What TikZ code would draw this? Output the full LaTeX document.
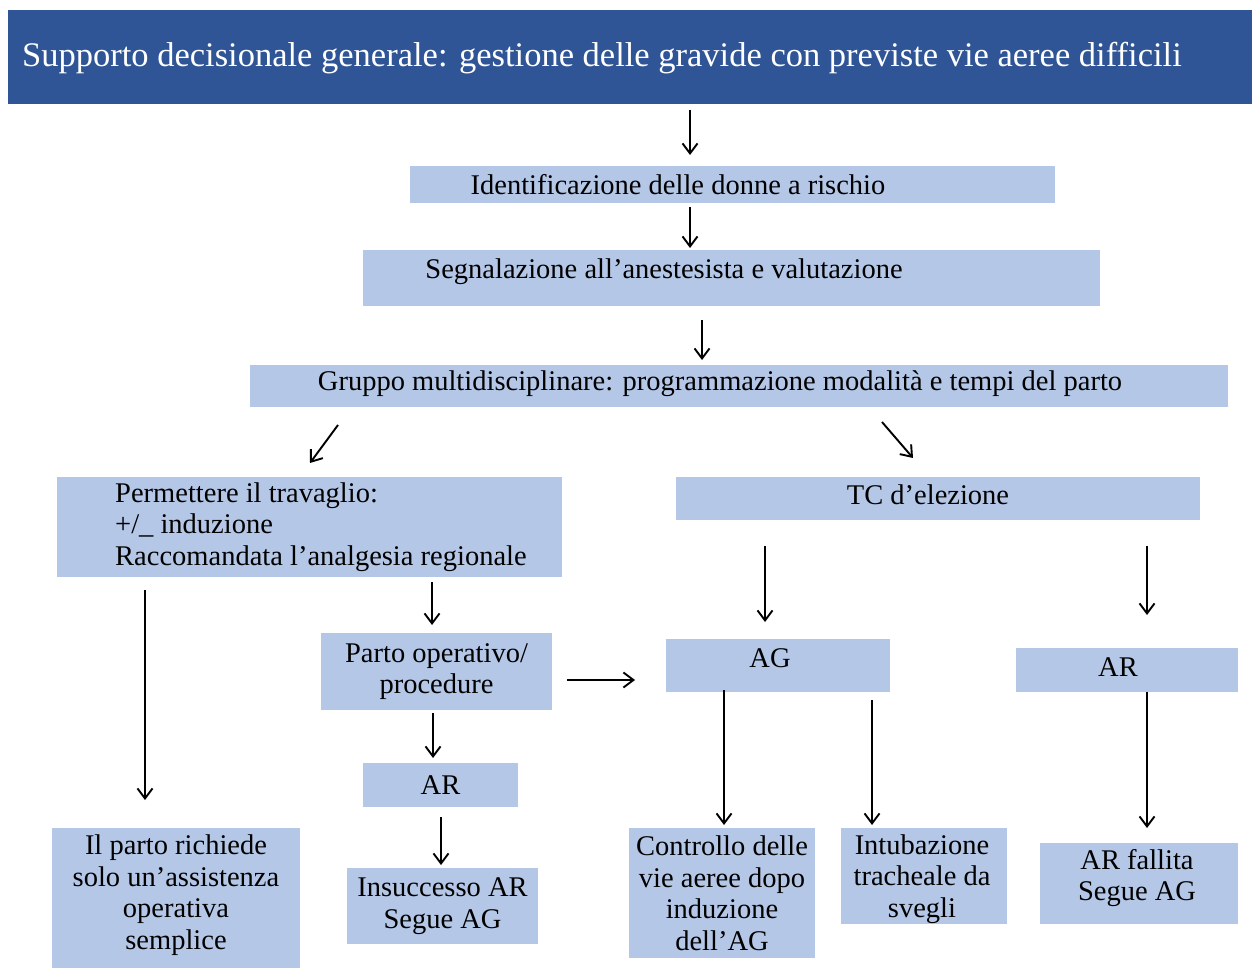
\documentclass[tikz,border=0pt]{standalone}
\usepackage{fontspec}
\setmainfont{Liberation Serif}
\usetikzlibrary{arrows.meta}
\definecolor{titleblue}{HTML}{2F5597}
\definecolor{boxblue}{HTML}{B4C7E7}
\tikzset{
  box/.style={fill=boxblue, draw=none, inner sep=0pt, align=center, font=\fontsize{28.5}{31.5}\selectfont, text=black},
  txt/.style={inner sep=0pt, align=left, font=\fontsize{28.5}{31.5}\selectfont, text=black},
  arr/.style={-{Straight Barb[length=10pt,width=15pt]}, line width=1.9pt},
}
\begin{document}
\begin{tikzpicture}[x=1pt,y=-1pt]
\useasboundingbox (0,0) rectangle (1252,968);
\fill[white] (0,0) rectangle (1252,968);
% title
\node[fill=titleblue, minimum width=1244pt, minimum height=94pt, inner sep=0pt] (title) at (630,57) {};
\node[anchor=west, text=white, font=\fontsize{34.5}{40}\selectfont, inner sep=0pt] (titletext) at (22,58) {Supporto decisionale generale: gestione delle gravide con previste vie aeree difficili};
% boxes
\node[box, minimum width=645pt, minimum height=37pt] (b1) at (732.5,184.5) {};
\node[txt] (b1t) at (678,184.5) {Identificazione delle donne a rischio};
\node[box, minimum width=737pt, minimum height=56pt] (b2) at (731.5,278) {};
\node[txt] (b2t) at (664,272) {Segnalazione all'anestesista e valutazione};
\node[box, minimum width=978pt, minimum height=42pt] (b3) at (739,386) {};
\node[txt] (b3t) at (720,384) {Gruppo multidisciplinare: programmazione modalità e tempi del parto};
\node[box, minimum width=505pt, minimum height=100pt] (b4) at (309.5,527) {};
\node[txt, anchor=west] (b4t) at (115,527) {Permettere il travaglio:\\+/\_ induzione\\Raccomandata l'analgesia regionale};
\node[box, minimum width=524pt, minimum height=43pt] (b5) at (938,498.5) {};
\node[txt] (b5t) at (928,495) {TC d'elezione};
\node[box, minimum width=231pt, minimum height=77pt] (b6) at (436.5,671.5) {Parto operativo/\\procedure};
\node[box, minimum width=224pt, minimum height=53pt] (ag) at (778,665.5) {};
\node[txt] (agt) at (770,658) {AG};
\node[box, minimum width=222pt, minimum height=44pt] (ar2) at (1127,670) {};
\node[txt] (ar2t) at (1118,667) {AR};
\node[box, minimum width=155pt, minimum height=44pt] (ar1) at (440.5,785) {AR};
\node[box, minimum width=191pt, minimum height=76pt] (ins) at (442.5,906) {Insuccesso AR\\Segue AG};
\node[box, minimum width=248pt, minimum height=140pt] (ilp) at (176,898) {};
\node[txt, align=center] (ilpt) at (176,895) {Il parto richiede\\solo un'assistenza\\operativa\\semplice};
\node[box, minimum width=186pt, minimum height=130pt] (con) at (722,893) {Controllo delle\\vie aeree dopo\\induzione\\dell'AG};
\node[box, minimum width=166pt, minimum height=96pt] (int) at (924,876) {};
\node[txt, align=center] (intt) at (922,879) {Intubazione\\tracheale da\\svegli};
\node[box, minimum width=198pt, minimum height=81pt] (arf) at (1139,883.5) {};
\node[txt, align=center] (arft) at (1137,878) {AR fallita\\Segue AG};
% arrows
\draw[arr] (690,110) -- (690,155);
\draw[arr] (690,207) -- (690,248);
\draw[arr] (702,320) -- (702,360);
\draw[arr] (338,425) -- (310,463);
\draw[arr] (882,422) -- (913,458);
\draw[arr] (432,582) -- (432,625);
\draw[arr] (145,590) -- (145,800);
\draw[arr] (567,680) -- (635,680);
\draw[arr] (765,546) -- (765,622);
\draw[arr] (1147,546) -- (1147,615);
\draw[arr] (724,690) -- (724,825);
\draw[arr] (872,700) -- (872,825);
\draw[arr] (1147,692) -- (1147,828);
\draw[arr] (433,713) -- (433,758);
\draw[arr] (441,817) -- (441,865);
\end{tikzpicture}
\end{document}
